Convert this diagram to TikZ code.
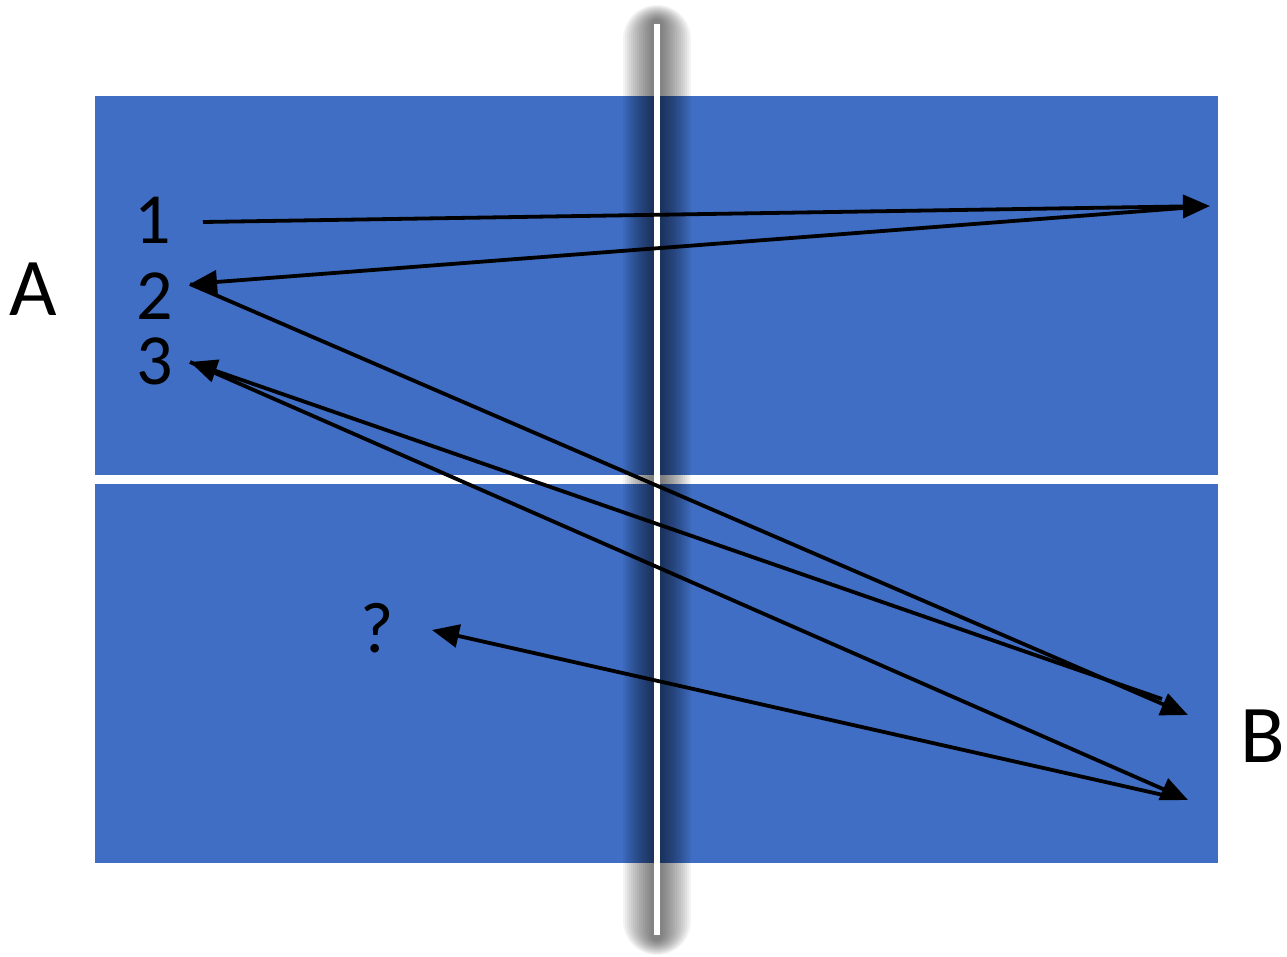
\documentclass[tikz,border=0pt]{standalone}
\usepackage{fontspec}
\setmainfont{Carlito}
\usetikzlibrary{arrows.meta}
\definecolor{tableblue}{RGB}{63,110,196}
\tikzset{
  shot/.style={line width=3.8pt, -{Triangle[length=27pt,width=23pt]}},
  lbl/.style={inner sep=0pt, font=\fontsize{72}{72}\selectfont},
  side/.style={inner sep=0pt, font=\fontsize{82}{82}\selectfont}
}
\begin{document}
\begin{tikzpicture}[x=1pt,y=-1pt]
\useasboundingbox (0,0) rectangle (1287,956);
% table
\fill[tableblue] (95,96) rectangle (1218,863);
\fill[white] (95,475) rectangle (1218,484);
% net shadow
\foreach \w in {34,32,...,6} {
  \fill[black, opacity=0.045, rounded corners=\w pt] (657-\w,{22-\w*0.5}) rectangle (657+\w,{938+\w*0.5});
}
% net
\fill[white] (654,24) rectangle (660,935);
% labels
\node[side] (A) at (33,289) {A};
\node[side] (B) at (1263,736) {B};
\node[lbl] (n1) at (153,220) {1};
\node[lbl] (n2) at (155,296) {2};
\node[lbl] (n3) at (155,361) {3};
\node[lbl] (q) at (377,628) {?};
% points
\coordinate (s1) at (203,222);
\coordinate (r) at (1210,206);
\coordinate (rs) at (1196,207);
\coordinate (p2) at (190,284);
\coordinate (b1) at (1188,715);
\coordinate (b1s) at (1162,699);
\coordinate (p3) at (190,362);
\coordinate (b2) at (1188,800);
\coordinate (b2s) at (1172,797);
\coordinate (qa) at (432,630);
% shots
\draw[shot] (s1) -- (r);
\draw[shot] (rs) -- (p2);
\draw[shot] (p2) -- (b1);
\draw[shot] (b1s) -- (p3);
\draw[shot] (p3) -- (b2);
\draw[shot] (b2s) -- (qa);
\end{tikzpicture}
\end{document}
